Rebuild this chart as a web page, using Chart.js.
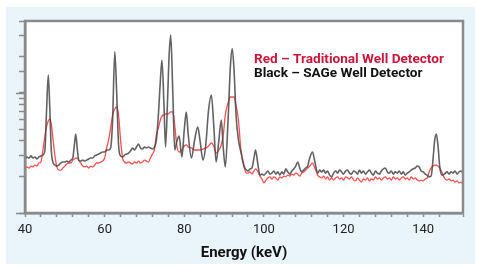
<!DOCTYPE html>
<html>
<head>
<meta charset="utf-8">
<script src="https://cdn.jsdelivr.net/npm/chart.js@4"></script>
<style>
  html, body { margin: 0; padding: 0; background: #fff; }
  #wrap { position: relative; width: 477px; height: 266px; }
  #panel { position: absolute; left: 6px; top: 7px; width: 469px; height: 257px; background: #eaf4fb; }
  canvas { position: absolute; left: 0; top: 0; }
</style>
</head>
<body>
<div id="wrap">
  <div id="panel"></div>
  <canvas id="spectrum" width="477" height="266"></canvas>
</div>
<script>
// energy (keV) of each read-off point
const energy = [
  40, 40.5, 41, 41.5, 42, 42.5, 43, 43.5, 44, 44.5, 45, 45.4, 45.85, 46.2, 46.6, 47, 47.5, 48, 48.5, 49,
  49.5, 50, 50.5, 51, 51.5, 52, 52.4, 52.75, 53.1, 53.5, 54, 54.5, 55, 55.5, 56, 56.5, 57, 57.5, 58, 58.5,
  59, 59.5, 60, 60.5, 61, 61.5, 62, 62.55, 63, 63.5, 64, 64.5, 65, 65.5, 66, 66.5, 67, 67.5, 68, 68.5,
  69, 69.5, 70, 70.5, 71, 71.5, 72, 72.5, 73, 73.5, 74, 74.4, 74.9, 75.3, 75.8, 76.2, 76.6, 77.1, 77.6, 78.1,
  78.7, 79.4, 80, 80.5, 81, 81.8, 82.6, 83.4, 84, 84.7, 85.4, 86.1, 86.8, 87.4, 88, 88.7, 89.3, 89.8, 90.3, 91,
  91.6, 92.05, 92.5, 93, 93.6, 94.3, 95.1, 95.6, 96, 96.5, 97, 97.5, 97.9, 98.4, 99, 99.5, 100, 100.5, 101, 101.5,
  102, 102.5, 103, 103.5, 104, 104.5, 105, 105.5, 106, 106.5, 107, 107.5, 108, 108.5, 109, 109.5, 110, 110.5, 111, 111.5,
  112.2, 112.8, 113.5, 114, 114.5, 115, 115.5, 116, 116.5, 117, 117.5, 118, 118.5, 119, 119.5, 120, 120.5, 121, 121.5, 122,
  122.5, 123, 123.5, 124, 124.5, 125, 125.5, 126, 126.5, 127, 127.5, 128, 128.5, 129, 129.5, 130, 130.5, 131, 131.5, 132,
  132.5, 133, 133.5, 134, 134.5, 135, 135.5, 136, 136.5, 137, 137.5, 138, 138.5, 139, 139.5, 140, 140.5, 141, 141.5, 142,
  142.5, 142.9, 143.3, 143.7, 144.2, 144.8, 145.3, 146, 146.5, 147, 147.5, 148, 148.5, 149, 149.5, 150
];

// counts, SAGe well detector (black)
const sageCounts = [
  28.2, 29.3, 28.7, 29.9, 28.7, 29.3, 28.2, 29.3, 29.9, 30.4, 33.5, 69.5, 141, 79.4, 33.5, 26.6, 25.1, 24.6, 25.1, 26.1,
  26.6, 26.6, 27.1, 26.6, 27.6, 28.7, 36.9, 45.5, 34.8, 27.6, 27.1, 27.6, 27.1, 27.6, 28.2, 28.7, 28.7, 29.9, 30.4, 31.0,
  31.6, 32.2, 32.2, 33.5, 33.5, 34.8, 59.6, 220, 106, 36.9, 29.9, 29.3, 30.4, 31.0, 31.6, 32.9, 34.8, 33.5, 35.5, 37.6,
  34.8, 34.1, 35.5, 34.8, 35.5, 34.8, 34.1, 35.5, 40.6, 65.5, 128, 188, 79.4, 35.5, 87.5, 207, 304, 106, 33.5, 39.1,
  43.8, 29.3, 49.2, 69.5, 44.7, 28.7, 40.6, 52.1, 39.1, 27.6, 36.9, 72.2, 96.2, 54.1, 26.6, 40.6, 59.6, 34.8, 24.2, 59.6,
  171, 233, 155, 65.5, 40.6, 31.6, 24.2, 22.8, 22.4, 23.3, 23.7, 28.7, 33.5, 26.6, 20.7, 21.1, 20.7, 21.5, 22.4, 21.1,
  21.5, 22.4, 21.1, 22.0, 20.7, 22.0, 21.1, 23.3, 22.0, 21.1, 22.4, 23.3, 24.6, 26.6, 23.7, 22.0, 22.8, 23.7, 24.6, 28.7,
  32.2, 26.6, 21.5, 22.8, 22.0, 22.8, 21.5, 22.4, 20.7, 20.0, 21.5, 22.4, 21.5, 22.8, 22.0, 21.1, 22.4, 22.8, 21.5, 21.1,
  22.4, 22.0, 21.1, 22.8, 21.5, 22.4, 21.1, 22.0, 22.8, 21.5, 20.7, 22.4, 21.5, 21.1, 22.4, 23.3, 23.7, 22.0, 21.5, 22.4,
  21.1, 22.0, 21.5, 22.4, 21.1, 22.0, 20.7, 21.5, 22.0, 22.8, 23.3, 23.7, 24.6, 24.2, 22.4, 22.0, 21.1, 20.7, 20.0, 20.3,
  28.7, 40.6, 45.5, 36.9, 23.7, 20.7, 21.1, 22.0, 21.1, 22.0, 21.5, 22.4, 21.1, 22.0, 22.4, 21.5
];

// counts, traditional well detector (red)
const tradCounts = [
  23.7, 24.2, 23.7, 24.6, 24.2, 25.1, 24.6, 26.1, 26.6, 33.5, 43.8, 52.1, 58.4, 60.8, 55.2, 42.2, 30.4, 24.2, 22.8, 22.8,
  23.7, 24.6, 25.6, 26.1, 26.1, 27.6, 28.2, 28.7, 28.7, 27.6, 26.1, 24.6, 24.2, 24.6, 23.7, 24.6, 24.2, 25.1, 26.1, 26.1,
  26.6, 27.1, 28.7, 34.8, 40.6, 51.1, 65.5, 73.6, 76.4, 65.5, 40.6, 28.7, 26.6, 26.1, 26.6, 26.1, 25.6, 26.6, 26.1, 27.1,
  26.1, 26.6, 27.6, 27.1, 26.6, 28.7, 31.0, 33.5, 44.7, 51.1, 59.6, 64.3, 65.5, 66.8, 66.8, 68.1, 69.5, 69.5, 54.1, 36.9,
  32.2, 33.5, 36.2, 36.9, 35.5, 34.8, 33.5, 33.5, 33.5, 34.1, 34.8, 36.2, 38.3, 36.2, 31.6, 33.5, 36.9, 44.7, 65.5, 82.5,
  92.6, 92.6, 92.6, 79.4, 59.6, 31.6, 23.7, 21.5, 21.5, 22.0, 21.1, 22.4, 23.3, 22.4, 20.3, 19.2, 17.8, 18.8, 19.6, 20.0,
  19.2, 20.0, 19.6, 18.8, 20.0, 19.6, 20.3, 20.0, 20.7, 20.3, 21.1, 20.7, 21.5, 21.1, 20.3, 21.5, 22.0, 22.8, 23.7, 24.6,
  26.1, 23.7, 20.7, 20.0, 19.6, 20.3, 19.2, 20.0, 18.8, 19.6, 18.8, 19.6, 20.0, 19.2, 19.6, 18.8, 20.0, 19.6, 19.2, 20.0,
  18.8, 18.5, 19.6, 18.8, 18.1, 19.2, 18.8, 19.6, 18.5, 19.2, 18.8, 20.0, 19.2, 19.6, 18.8, 19.6, 20.0, 19.2, 19.6, 18.8,
  20.0, 19.2, 19.6, 18.8, 19.6, 20.0, 19.2, 19.6, 18.8, 20.0, 19.2, 19.6, 18.8, 18.5, 18.8, 18.5, 19.2, 19.6, 22.0, 23.7,
  24.6, 25.1, 25.1, 24.6, 23.7, 21.5, 19.6, 18.8, 19.2, 18.5, 18.8, 18.1, 18.5, 17.8, 18.1, 17.4
];

const xTickLabels = [40, 60, 80, 100, 120, 140];
const legendLines = ['Red \u2013 Traditional Well Detector', 'Black \u2013 SAGe Well Detector'];

const frameGray = '#8a8a8a';

// white plot area, grey frame, longer decade ticks and the in-plot legend
const plotFrame = {
  id: 'plotFrame',
  beforeDraw(chart) {
    const { ctx, chartArea: a } = chart;
    ctx.save();
    ctx.fillStyle = '#fff';
    ctx.fillRect(a.left, a.top, a.right - a.left, a.bottom - a.top);
    ctx.restore();
  },
  afterDraw(chart) {
    const { ctx, chartArea: a } = chart;
    const y = chart.scales.y;
    ctx.save();
    ctx.strokeStyle = frameGray;
    ctx.lineWidth = 2.5;
    ctx.strokeRect(a.left, a.top, a.right - a.left, a.bottom - a.top);
    ctx.lineWidth = 1.5;
    [10, 100].forEach(v => {
      const py = Math.round(y.getPixelForValue(v)) + 0.5;
      ctx.beginPath();
      ctx.moveTo(a.left - 9, py);
      ctx.lineTo(a.left, py);
      ctx.stroke();
    });
    ctx.font = 'bold 13.6px Roboto';
    ctx.textBaseline = 'middle';
    ctx.textAlign = 'left';
    ctx.fillStyle = '#c8163c';
    ctx.fillText(legendLines[0], 254, 60);
    ctx.fillStyle = '#111';
    ctx.fillText(legendLines[1], 254, 74);
    ctx.restore();
  }
};

new Chart(document.getElementById('spectrum'), {
  type: 'line',
  data: {
    datasets: [
      {
        label: 'SAGe Well Detector',
        data: energy.map((e, i) => ({ x: e, y: sageCounts[i] })),
        borderColor: 'rgba(70, 70, 70, 0.85)',
        borderWidth: 1.6,
        cubicInterpolationMode: 'monotone',
        pointRadius: 0
      },
      {
        label: 'Traditional Well Detector',
        data: energy.map((e, i) => ({ x: e, y: tradCounts[i] })),
        borderColor: 'rgba(255, 60, 60, 0.9)',
        borderWidth: 1.3,
        cubicInterpolationMode: 'monotone',
        pointRadius: 0
      }
    ]
  },
  options: {
    responsive: false,
    animation: false,
    devicePixelRatio: 1,
    layout: { padding: { left: 0, top: 21, right: 14, bottom: 0 } },
    plugins: {
      legend: { display: false },
      tooltip: { enabled: false }
    },
    scales: {
      x: {
        type: 'linear',
        min: 40,
        max: 150,
        grid: { display: true, drawOnChartArea: false, tickLength: 4, tickColor: frameGray, tickWidth: 1.5 },
        border: { display: true, color: frameGray, width: 2.5 },
        ticks: {
          stepSize: 4,
          autoSkip: false,
          maxRotation: 0,
          padding: 5,
          color: '#222',
          font: { family: 'Roboto', size: 13 },
          callback: v => xTickLabels.includes(v) ? String(v) : ''
        },
        title: {
          display: true,
          text: 'Energy (keV)',
          color: '#111',
          font: { family: 'Roboto', size: 15, weight: 'bold' },
          padding: { top: 4, bottom: 4 }
        },
        afterFit: s => { s.height = 53; }
      },
      y: {
        type: 'logarithmic',
        min: 10,
        max: 398,
        grid: { display: true, drawOnChartArea: false, tickLength: 6, tickColor: frameGray, tickWidth: 1.5 },
        border: { display: true, color: frameGray, width: 2.5 },
        ticks: { display: false },
        afterFit: s => { s.width = 25; }
      }
    }
  },
  plugins: [plotFrame]
});
</script>
</body>
</html>
